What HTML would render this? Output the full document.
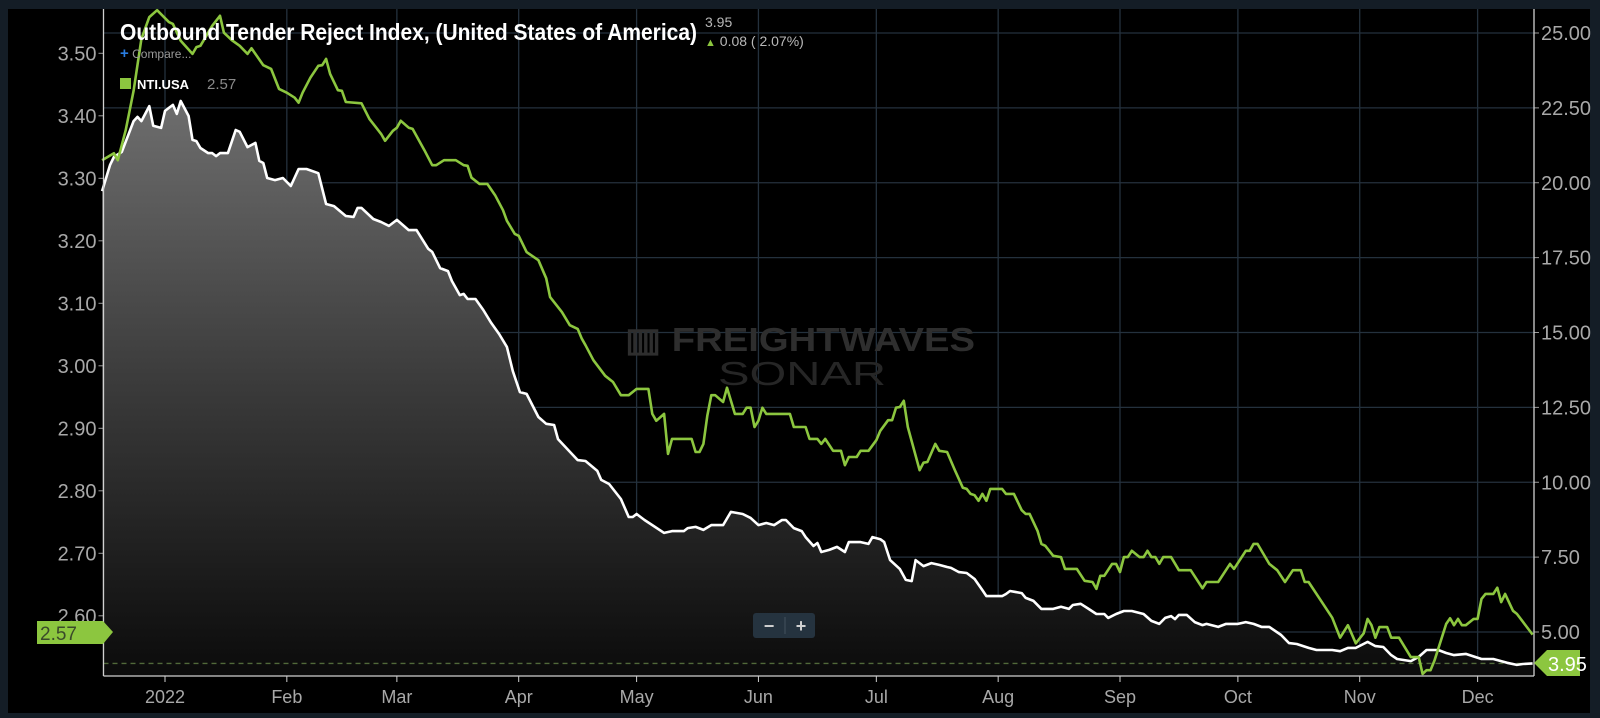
<!DOCTYPE html>
<html>
<head>
<meta charset="utf-8">
<style>
  html,body{margin:0;padding:0;background:#141d26;}
  #wrap{position:relative;width:1600px;height:718px;overflow:hidden;background:#141d26;font-family:"Liberation Sans",sans-serif;}
  svg{position:absolute;left:0;top:0;}
</style>
</head>
<body>
<div id="wrap">
<svg id="chart" width="1600" height="718" viewBox="0 0 1600 718">
  <defs>
    <linearGradient id="areaGrad" gradientUnits="userSpaceOnUse" x1="0" y1="100" x2="0" y2="676">
      <stop offset="0" stop-color="#6e6e6e"/>
      <stop offset="0.5" stop-color="#3a3a3a"/>
      <stop offset="1" stop-color="#0b0b0b"/>
    </linearGradient>
  </defs>
  <rect x="8" y="9" width="1582" height="704" fill="#000"/>
  <g id="grid"></g>
  <g id="series"></g>
  <g id="axes"></g>
  <g>
    <text x="625" y="351" font-size="33" font-weight="bold" fill="#2e2e2e" textLength="350" lengthAdjust="spacingAndGlyphs">▥ FREIGHTWAVES</text>
    <text x="718" y="385" font-size="33" fill="#262626" textLength="168" lengthAdjust="spacingAndGlyphs">SONAR</text>
  </g>
  <text x="120" y="40" font-size="23" font-weight="bold" fill="#fff" textLength="577" lengthAdjust="spacingAndGlyphs">Outbound Tender Reject Index, (United States of America)</text>
  <text x="705" y="27" font-size="14" fill="#b8b8b8">3.95</text>
  <text x="705" y="46" font-size="14" fill="#b8b8b8"><tspan fill="#8cc63f" font-size="11">▲</tspan> 0.08 ( 2.07%)</text>
  <text x="120" y="58" font-size="12" fill="#9a9a9a"><tspan fill="#2a7de1" font-weight="bold" font-size="15">+</tspan> Compare...</text>
  <rect x="120" y="78" width="11" height="11" fill="#8cc63f"/>
  <text x="137" y="89" font-size="13" font-weight="bold" fill="#fff">NTI.USA</text>
  <text x="207" y="89" font-size="15" fill="#8a8a8a">2.57</text>
  <g>
    <rect x="753" y="613" width="62" height="25" rx="3" fill="#25333f"/>
    <line x1="785" y1="617" x2="785" y2="634" stroke="#44525e" stroke-width="1"/>
    <text x="769" y="632" font-size="18" font-weight="bold" fill="#d0d0d0" text-anchor="middle">−</text>
    <text x="801" y="632" font-size="18" font-weight="bold" fill="#d0d0d0" text-anchor="middle">+</text>
  </g>
  <g>
    <path d="M37,621 L103,621 L113,632 L103,644 L37,644 Z" fill="#8cc63f"/>
    <text x="40" y="640" font-size="19" fill="#3a4a2a">2.57</text>
  </g>
  <g>
    <path d="M1534,663 L1547,650 L1580,650 L1580,676 L1547,676 Z" fill="#8cc63f"/>
    <text x="1548" y="671" font-size="20" fill="#fff">3.95</text>
  </g>
</svg>
</div>
<script>
// ---- data (days from Jan 1 2022) ----
const ntiDays = [-16,-13,-12,-10,-8,-6,-4,-2,1,2,4,7,8,9,12,14,15,17,19,21,22,25,27,29,31,33,34,35,37,39,40,41,42,44,45,46,50,52,55,56,58,59,60,62,63,66,68,69,71,74,76,77,78,80,82,84,86,87,89,90,92,95,97,98,101,103,105,106,107,109,112,114,116,118,120,123,124,125,127,128,129,134,135,136,137,138,139,140,142,143,145,147,148,149,150,151,152,153,159,160,163,164,166,167,168,170,172,173,174,176,177,179,181,182,184,185,186,187,188,189,192,193,194,196,197,199,201,203,204,205,206,207,208,209,210,213,214,216,218,219,220,222,223,224,226,228,229,232,234,236,237,238,239,241,242,243,244,245,246,248,249,250,251,252,253,254,256,258,261,264,265,268,271,272,275,276,277,278,281,283,285,287,289,290,291,297,299,301,303,305,306,307,308,309,311,312,314,317,319,320,321,322,323,326,327,328,329,330,331,333,334,335,336,338,339,340,341,343,344,348];
const ntiValues = [3.329,3.340,3.329,3.377,3.440,3.523,3.558,3.569,3.550,3.547,3.520,3.499,3.510,3.512,3.544,3.560,3.533,3.521,3.512,3.499,3.508,3.481,3.475,3.443,3.437,3.429,3.421,3.437,3.461,3.480,3.481,3.491,3.467,3.441,3.440,3.422,3.420,3.395,3.371,3.360,3.376,3.381,3.392,3.381,3.379,3.345,3.321,3.321,3.329,3.329,3.321,3.320,3.301,3.291,3.291,3.273,3.249,3.232,3.211,3.208,3.182,3.169,3.140,3.110,3.086,3.065,3.059,3.044,3.033,3.009,2.984,2.974,2.953,2.953,2.963,2.963,2.923,2.912,2.923,2.859,2.883,2.883,2.862,2.862,2.875,2.920,2.953,2.953,2.942,2.965,2.923,2.923,2.933,2.933,2.902,2.912,2.933,2.923,2.923,2.902,2.902,2.883,2.883,2.875,2.883,2.864,2.864,2.841,2.854,2.854,2.864,2.864,2.881,2.896,2.913,2.913,2.933,2.934,2.944,2.902,2.833,2.845,2.846,2.875,2.864,2.862,2.833,2.805,2.803,2.795,2.793,2.784,2.795,2.784,2.803,2.803,2.795,2.795,2.769,2.763,2.763,2.736,2.715,2.712,2.696,2.694,2.675,2.675,2.656,2.654,2.643,2.664,2.664,2.683,2.683,2.670,2.694,2.694,2.704,2.694,2.694,2.704,2.694,2.694,2.683,2.694,2.694,2.673,2.673,2.644,2.654,2.654,2.683,2.675,2.704,2.704,2.715,2.715,2.683,2.673,2.654,2.673,2.673,2.654,2.654,2.597,2.565,2.585,2.556,2.572,2.595,2.585,2.565,2.582,2.582,2.565,2.565,2.534,2.534,2.507,2.513,2.513,2.528,2.587,2.596,2.585,2.595,2.585,2.585,2.595,2.595,2.627,2.635,2.635,2.645,2.622,2.635,2.608,2.603,2.570];
const otriDays = [-16,-14,-13,-11,-8,-7,-6,-4,-3,-1,0,1,2,3,4,6,7,8,9,11,12,13,14,16,18,19,21,23,24,25,26,28,30,32,34,36,39,41,43,46,48,49,50,53,55,57,59,62,64,67,68,70,72,73,75,76,77,79,81,83,85,87,88.5,90.3,92,95,97,99,100,105,107,110,111,113,116,118,119,120,122,124,127,129,132,133,135,137,139,142,144,147,149,151,153,155,157,158,160,162,163,165,166,167,169,171,173,174,176,177,179,180,182,183,184.5,187,188.5,190,191,193,195,197,199,200,202,204,206,208,209,213,214,215,218,219,221,223,226,228,230,231,233,235,237,239,240,242,244,246,249,251,253,254.5,256,257,258,260,262,264,265,268,270,273,275,277,279,281,284,286,288,291,293,297,299,301,303,306,308,310,312,313.5,317,319,321,324,326,328,331,335,338,341.5,344,345.5,348];
const otriValues = [19.72,20.59,20.86,21.03,22.06,22.20,22.06,22.56,21.90,21.83,22.40,22.50,22.60,22.30,22.73,22.23,21.43,21.39,21.16,20.99,20.99,20.89,20.99,20.99,21.76,21.70,21.19,21.33,20.73,20.66,20.16,20.09,20.16,19.89,20.46,20.46,20.32,19.29,19.22,18.89,18.86,19.16,19.16,18.79,18.69,18.56,18.76,18.42,18.42,17.79,17.69,17.15,17.05,16.72,16.25,16.29,16.12,16.12,15.75,15.32,14.95,14.52,13.71,13.01,12.95,12.18,11.95,11.91,11.44,10.74,10.71,10.38,10.08,9.94,9.44,8.84,8.84,8.94,8.74,8.57,8.31,8.37,8.37,8.47,8.51,8.41,8.57,8.57,9.01,8.94,8.81,8.57,8.64,8.57,8.74,8.74,8.47,8.37,8.17,7.87,7.97,7.67,7.74,7.84,7.67,8.00,8.00,8.00,7.94,8.17,8.10,8.00,7.40,7.10,6.74,6.70,7.40,7.20,7.30,7.24,7.17,7.14,7.00,6.97,6.77,6.40,6.20,6.20,6.27,6.37,6.30,6.14,6.04,5.77,5.77,5.84,5.77,5.90,5.94,5.77,5.60,5.60,5.47,5.60,5.70,5.70,5.60,5.37,5.27,5.47,5.53,5.43,5.57,5.57,5.33,5.23,5.27,5.17,5.27,5.27,5.33,5.27,5.17,5.17,4.90,4.63,4.60,4.47,4.40,4.40,4.36,4.47,4.47,4.67,4.53,4.50,4.23,4.10,4.03,4.17,4.40,4.40,4.30,4.23,4.27,4.10,4.10,3.97,3.90,3.93,3.95];
const leftTicks = [3.5,3.4,3.3,3.2,3.1,3.0,2.9,2.8,2.7,2.6];
const leftTickLabels = ["3.50","3.40","3.30","3.20","3.10","3.00","2.90","2.80","2.70","2.60"];
const rightTicks = [25,22.5,20,17.5,15,12.5,10,7.5,5];
const rightTickLabels = ["25.00","22.50","20.00","17.50","15.00","12.50","10.00","7.50","5.00"];
const monthDays = [0,31,59,90,120,151,181,212,243,273,304,334];
const monthLabels = ["2022","Feb","Mar","Apr","May","Jun","Jul","Aug","Sep","Oct","Nov","Dec"];
const lastOtri = 3.95;

// ---- axes functions ----
const X0 = 103.5, X1 = 1534, YTOP = 9, YBOT = 676;
function xScale(d){ return 165 + d * 3.93; }
function yLeft(v){ return 53.3 + (3.5 - v) * 625; }
function yRight(v){ return 33 + (25 - v) * 29.95; }

const NS = "http://www.w3.org/2000/svg";
function mk(tag, attrs, parent){
  const el = document.createElementNS(NS, tag);
  for (const k in attrs) el.setAttribute(k, attrs[k]);
  parent.appendChild(el);
  return el;
}
const grid = document.getElementById('grid');
const axes = document.getElementById('axes');
const series = document.getElementById('series');

// horizontal grid (right axis)
rightTicks.forEach((v, i) => {
  const y = yRight(v);
  const l = mk('line', {x1:X0, x2:X1, y1:y, y2:y, stroke:'#24313d', 'stroke-width':1.3}, grid);
  
  
  const tk = mk('line', {x1:X1, x2:X1+5, y1:y, y2:y, stroke:'#9a9a9a', 'stroke-width':1}, axes);
  
  
  const t = mk('text', {x:X1+7, y:y+7, 'font-size':20, fill:'#a8a8a8'}, axes);
  t.textContent = rightTickLabels[i];
  
  
});
// vertical grid
monthDays.forEach((d, i) => {
  const x = xScale(d);
  const l = mk('line', {x1:x, x2:x, y1:YTOP, y2:YBOT, stroke:'#24313d', 'stroke-width':1.3}, grid);
  
  
  const tk = mk('line', {x1:x, x2:x, y1:YBOT, y2:YBOT+6, stroke:'#cfcfcf', 'stroke-width':1}, axes);
  
  
  const t = mk('text', {x:x, y:703, 'font-size':18, fill:'#a8a8a8', 'text-anchor':'middle'}, axes);
  t.textContent = monthLabels[i];
  
  
});
// left ticks
leftTicks.forEach((v, i) => {
  const y = yLeft(v);
  const tk = mk('line', {x1:X0-5, x2:X0, y1:y, y2:y, stroke:'#9a9a9a', 'stroke-width':1}, axes);
  
  
  const t = mk('text', {x:X0-7, y:y+7, 'font-size':20, fill:'#a8a8a8', 'text-anchor':'end'}, axes);
  t.textContent = leftTickLabels[i];
  
  
});
// axis lines
const la = mk('line', {x1:X0, x2:X0, y1:YTOP, y2:YBOT, stroke:'#d0d0d0', 'stroke-width':1.3}, axes);


const ra = mk('line', {x1:X1, x2:X1, y1:YTOP, y2:YBOT, stroke:'#d0d0d0', 'stroke-width':1.3}, axes);


const ba = mk('line', {x1:X0, x2:X1, y1:YBOT, y2:YBOT, stroke:'#d0d0d0', 'stroke-width':1.3}, axes);



// OTRI area + line (right axis)
let otriPts = otriDays.map((d, i) => xScale(d).toFixed(1) + ',' + yRight(otriValues[i]).toFixed(1));
const area = mk('path', {d:'M' + xScale(otriDays[0]).toFixed(1) + ',' + YBOT + ' L' + otriPts.join(' L') + ' L' + xScale(otriDays[otriDays.length-1]).toFixed(1) + ',' + YBOT + ' Z', fill:'url(#areaGrad)'}, series);


// dashed last-value line
const dl = mk('line', {x1:X0, x2:X1, y1:yRight(lastOtri), y2:yRight(lastOtri), stroke:'#51693a', 'stroke-width':1.3, 'stroke-dasharray':'5 4'}, series);


const otriLine = mk('polyline', {points:otriPts.join(' '), fill:'none', stroke:'#ffffff', 'stroke-width':2.6, 'stroke-linejoin':'round'}, series);



// NTI line (left axis)
const ntiPts = ntiDays.map((d, i) => xScale(d).toFixed(1) + ',' + yLeft(ntiValues[i]).toFixed(1));
const ntiLine = mk('polyline', {points:ntiPts.join(' '), fill:'none', stroke:'#8cc63f', 'stroke-width':2.6, 'stroke-linejoin':'round'}, series);


</script>
</body>
</html>
